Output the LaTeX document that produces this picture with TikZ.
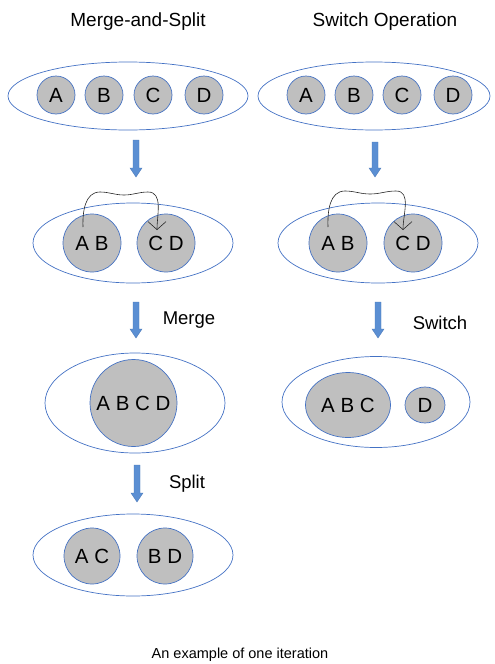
\documentclass[tikz,border=0pt]{standalone}
\usepackage{fontspec}
\setmainfont{Liberation Sans}
\usetikzlibrary{arrows.meta,shapes.geometric,calc}
\definecolor{rim}{HTML}{4472C4}
\definecolor{member}{HTML}{BFBFBF}
\definecolor{flow}{HTML}{5B8FD3}
\definecolor{flowrim}{HTML}{4A78B8}
\tikzset{
  group/.style={ellipse, draw=rim, line width=0.7pt, inner sep=0pt},
  player/.style={circle, draw=rim, fill=member, line width=0.7pt, inner sep=0pt,
    font=\fontsize{20.5}{22}\selectfont},
  coal/.style={ellipse, draw=rim, fill=member, line width=0.7pt, inner sep=0pt,
    font=\fontsize{20.5}{22}\selectfont},
  heading/.style={font=\fontsize{19}{21}\selectfont},
  note/.style={font=\fontsize{18.5}{20}\selectfont},
  blockarrow/.style={fill=flow, draw=flowrim, line width=0.4pt},
  swap/.style={draw=black!85, line width=0.6pt, -{Straight Barb[length=8pt,width=18pt]}}
}
% downward block arrow: x centre, top y, tip y
\newcommand{\downarrowblk}[3]{%
  \draw[blockarrow] (#1-3,#2) -- (#1+3,#2) -- (#1+3,#3-9) -- (#1+6,#3-9)
    -- (#1,#3) -- (#1-6,#3-9) -- (#1-3,#3-9) -- cycle;}
\begin{document}
\begin{tikzpicture}[x=1pt,y=-1pt]
\useasboundingbox (0,0) rectangle (495,664);

% ---- headings
\node[heading] (t1) at (138,22) {Merge-and-Split};
\node[heading] (t2) at (385,22) {Switch Operation};

% ---- left column: merge-and-split
\node[group, minimum width=240pt, minimum height=68pt] (L1) at (128,96) {};
\node[player, minimum size=38pt] (La) at (56,95) {A};
\node[player, minimum size=38pt] (Lb) at (104,95) {B};
\node[player, minimum size=38pt] (Lc) at (153,95) {C};
\node[player, minimum size=38pt] (Ld) at (204,95) {D};

\downarrowblk{136}{140}{177}

\node[group, minimum width=200pt, minimum height=80pt] (L2) at (133,243) {};
\node[player, minimum size=58pt] (Lab) at (92,243) {A B};
\node[player, minimum size=58pt] (Lcd) at (166,243) {C D};
\draw[swap] ($(Lab.center)+(-9,-16)$) to[out=92,in=180] (100,192)
  to[out=0,in=180] (124,195) to[out=0,in=180] (148,192)
  to[out=0,in=90] ($(Lcd.center)+(-9,-13)$);

\downarrowblk{136}{302}{338}
\node[note] (mg) at (189,320) {Merge};

\node[group, minimum width=180pt, minimum height=100pt] (L3) at (135,403) {};
\node[player, minimum size=87pt] (Labcd) at (133.5,403) {A B C D};

\downarrowblk{137}{465}{502}
\node[note] (sp) at (187,484) {Split};

\node[group, minimum width=200pt, minimum height=82pt] (L4) at (133,555) {};
\node[player, minimum size=56pt] (Lac) at (92,556) {A C};
\node[player, minimum size=56pt] (Lbd) at (165,556) {B D};

% ---- right column: switch operation
\node[group, minimum width=232pt, minimum height=68pt] (R1) at (374,96) {};
\node[player, minimum size=38pt] (Ra) at (306,95) {A};
\node[player, minimum size=38pt] (Rb) at (354,95) {B};
\node[player, minimum size=38pt] (Rc) at (402,95) {C};
\node[player, minimum size=38pt] (Rd) at (453,95) {D};

\downarrowblk{375}{142}{177}

\node[group, minimum width=200pt, minimum height=80pt] (R2) at (378,243) {};
\node[player, minimum size=58pt] (Rab) at (338,243) {A B};
\node[player, minimum size=58pt] (Rcd) at (413,243) {C D};
\draw[swap] ($(Rab.center)+(-10,-16)$) to[out=92,in=180] (345,191)
  to[out=0,in=180] (370,194) to[out=0,in=180] (396,191)
  to[out=0,in=90] ($(Rcd.center)+(-10,-13)$);

\downarrowblk{378}{302}{338}
\node[note] (sw) at (440,323) {Switch};

\node[group, minimum width=188pt, minimum height=91pt] (R3) at (376,402) {};
\node[coal, minimum width=85pt, minimum height=65pt] (Rabc) at (348,405) {A B C};
\node[coal, minimum width=40pt, minimum height=36pt] (Rd2) at (425,405) {D};

% ---- caption
\node[font=\fontsize{14.5}{16}\selectfont] (cap) at (240,655) {An example of one iteration};
\end{tikzpicture}
\end{document}
